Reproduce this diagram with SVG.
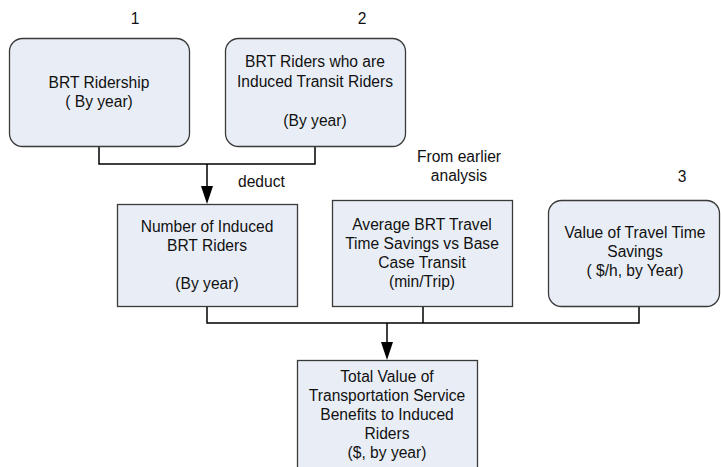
<svg xmlns="http://www.w3.org/2000/svg" width="721" height="467" viewBox="0 0 721 467">
  <style>
    .box { fill: #e9eef6; stroke: #3a3a3a; stroke-width: 1.3; }
    .wire { fill: none; stroke: #000; stroke-width: 1.5; }
    text { font-family: "Liberation Sans", Arial, sans-serif; font-size: 15.6px; fill: #111; }
    .c { text-anchor: middle; }
  </style>
  <rect width="721" height="467" fill="#fff"/>

  <!-- connectors -->
  <g id="connectors">
    <path class="wire" d="M99,147 V164 H315 V147"/>
    <path class="wire" d="M207,164 V186"/>
    <path d="M201,186 L213,186 L207,204 Z" fill="#000"/>
    <path class="wire" d="M207,307 V323 H639 V307"/>
    <path class="wire" d="M423,307 V323"/>
    <path class="wire" d="M387,323 V342"/>
    <path d="M381,342 L393,342 L387,360 Z" fill="#000"/>
  </g>

  <!-- free labels -->
  <g id="labels">
    <text class="c" x="135" y="24">1</text>
    <text class="c" x="362" y="24">2</text>
    <text class="c" x="682" y="182">3</text>
    <text x="238" y="187">deduct</text>
    <text class="c" x="459" y="162">From earlier</text>
    <text class="c" x="459" y="181">analysis</text>
  </g>

  <g id="node-ridership">
    <rect class="box" x="9.5" y="38.5" width="180" height="108" rx="13"/>
    <text class="c" x="99" y="88">BRT Ridership</text>
    <text class="c" x="99" y="107">( By year)</text>
  </g>

  <g id="node-induced-transit">
    <rect class="box" x="225.5" y="38.5" width="180" height="108" rx="13"/>
    <text class="c" x="315" y="67">BRT Riders who are</text>
    <text class="c" x="315" y="87">Induced Transit Riders</text>
    <text class="c" x="315" y="126">(By year)</text>
  </g>

  <g id="node-induced-brt">
    <rect class="box" x="117.5" y="204.5" width="180" height="102"/>
    <text class="c" x="207" y="232">Number of Induced</text>
    <text class="c" x="207" y="251">BRT Riders</text>
    <text class="c" x="207" y="289">(By year)</text>
  </g>

  <g id="node-time-savings">
    <rect class="box" x="332.5" y="200.5" width="180" height="106"/>
    <text class="c" x="422" y="230">Average BRT Travel</text>
    <text class="c" x="422" y="249">Time Savings vs Base</text>
    <text class="c" x="422" y="268">Case Transit</text>
    <text class="c" x="422" y="287">(min/Trip)</text>
  </g>

  <g id="node-value-time">
    <rect class="box" x="548.5" y="200.5" width="171" height="106" rx="13"/>
    <text class="c" x="635" y="238">Value of Travel Time</text>
    <text class="c" x="635" y="257">Savings</text>
    <text class="c" x="635" y="276">( $/h, by Year)</text>
  </g>

  <g id="node-total-value">
    <rect class="box" x="297.5" y="360.5" width="180" height="120"/>
    <text class="c" x="387" y="382">Total Value of</text>
    <text class="c" x="387" y="401">Transportation Service</text>
    <text class="c" x="387" y="420">Benefits to Induced</text>
    <text class="c" x="387" y="439">Riders</text>
    <text class="c" x="387" y="458">($, by year)</text>
  </g>
</svg>
